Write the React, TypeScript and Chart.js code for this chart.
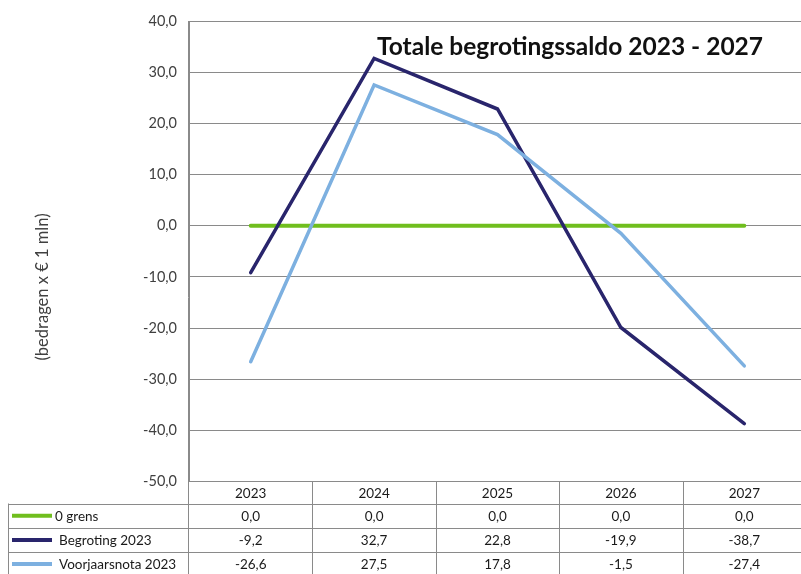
import React, { useEffect, useRef } from "react";
import { Chart, registerables } from "chart.js";

Chart.register(...registerables);

const categories = ["2023", "2024", "2025", "2026", "2027"];
const seriesNames = ["0 grens", "Begroting 2023", "Voorjaarsnota 2023"];
const grens = [0, 0, 0, 0, 0];
const begroting = [-9.2, 32.7, 22.8, -19.9, -38.7];
const voorjaarsnota = [-26.6, 27.5, 17.8, -1.5, -27.4];
const seriesColors = ["#70BE1E", "#29256C", "#7DB0E0"];
const title = "Totale begrotingssaldo 2023 - 2027";
const yTitle = "(bedragen x € 1 mln)";

const FONT = "Lato, 'Open Sans', sans-serif";
const fmt = (v: number) => v.toFixed(1).replace(".", ",");

const W = 806;
const H = 574;
const GRID = "#8a8a8a";

const tablePlugin = {
  id: "tablePlugin",
  afterDraw(chart: any) {
    const ctx = chart.ctx as CanvasRenderingContext2D;
    const area = chart.chartArea;
    const x = chart.scales.x;
    const left = area.left;
    const right = W;
    const top = area.bottom;
    const rowH = [22, 24.5, 24, 24];
    const rowsY: number[] = [top];
    rowH.forEach((h, i) => rowsY.push(rowsY[i] + h));
    const tableLeft = 8;

    ctx.save();
    ctx.strokeStyle = GRID;
    ctx.lineWidth = 1;
    const hl = (y: number, x0: number, x1: number) => {
      const yy = Math.round(y) + 0.5;
      ctx.beginPath();
      ctx.moveTo(x0, yy);
      ctx.lineTo(x1, yy);
      ctx.stroke();
    };
    const vl = (xx: number, y0: number, y1: number) => {
      const px = Math.round(xx) + 0.5;
      ctx.beginPath();
      ctx.moveTo(px, y0);
      ctx.lineTo(px, y1);
      ctx.stroke();
    };
    for (let i = 1; i < rowsY.length; i++) hl(rowsY[i], tableLeft, right);
    vl(tableLeft, rowsY[1], H);
    vl(left - 1, area.top, H);
    const step = (x.getPixelForValue(1) - x.getPixelForValue(0));
    for (let i = 0; i < categories.length; i++) {
      const cx = x.getPixelForValue(i);
      vl(cx + step / 2, top, H);
    }

    ctx.fillStyle = "#1a1a1a";
    ctx.font = `13.5px ${FONT}`;
    ctx.textAlign = "center";
    ctx.textBaseline = "middle";
    categories.forEach((c, i) => {
      ctx.fillText(c, x.getPixelForValue(i), (rowsY[0] + rowsY[1]) / 2 + 1);
    });
    const all = [grens, begroting, voorjaarsnota];
    all.forEach((vals, r) => {
      const cy = (rowsY[r + 1] + rowsY[r + 2]) / 2 + 1;
      vals.forEach((v, i) => {
        ctx.textAlign = "center";
        ctx.fillText(fmt(v), x.getPixelForValue(i), cy);
      });
      ctx.strokeStyle = seriesColors[r];
      ctx.lineWidth = 4;
      ctx.beginPath();
      ctx.moveTo(12, cy - 1);
      ctx.lineTo(52, cy - 1);
      ctx.stroke();
      ctx.textAlign = "left";
      ctx.fillText(seriesNames[r], r === 0 ? 55 : 59, cy);
    });

    // title
    ctx.fillStyle = "#111111";
    ctx.font = `bold 24.5px ${FONT}`;
    ctx.textAlign = "left";
    ctx.textBaseline = "alphabetic";
    ctx.fillText(title, 377, 55);

    // y title
    ctx.save();
    ctx.translate(43, 287);
    ctx.rotate(-Math.PI / 2);
    ctx.fillStyle = "#404040";
    ctx.font = `16.5px ${FONT}`;
    ctx.textAlign = "center";
    ctx.textBaseline = "middle";
    ctx.fillText(yTitle, 0, 0);
    ctx.restore();

    ctx.restore();
  },
};

export default function App() {
  const ref = useRef<HTMLCanvasElement | null>(null);
  useEffect(() => {
    if (!ref.current) return;
    const chart = new Chart(ref.current, {
      type: "line",
      data: {
        labels: categories,
        datasets: [
          { label: seriesNames[0], data: grens, borderColor: seriesColors[0], borderWidth: 4, order: 3 },
          { label: seriesNames[1], data: begroting, borderColor: seriesColors[1], borderWidth: 3.5, order: 2 },
          { label: seriesNames[2], data: voorjaarsnota, borderColor: seriesColors[2], borderWidth: 3.5, order: 1 },
        ].map((d) => ({
          ...d,
          pointRadius: 0,
          pointHoverRadius: 0,
          tension: 0,
          fill: false,
          borderCapStyle: "round" as const,
        })),
      },
      options: {
        responsive: false,
        animation: false,
        devicePixelRatio: 1,
        layout: { padding: { top: 21, left: 0, right: 0, bottom: 0 } },
        plugins: { legend: { display: false }, tooltip: { enabled: false }, title: { display: false } },
        scales: {
          x: {
            type: "category",
            offset: true,
            grid: { display: false, drawTicks: false },
            border: { display: false },
            ticks: { display: false },
            afterFit: (s: any) => {
              s.height = 92.5;
            },
          },
          y: {
            min: -50,
            max: 40,
            ticks: {
              stepSize: 10,
              padding: 12,
              color: "#404040",
              font: { family: FONT, size: 14.5 },
              callback: (v: any) => fmt(Number(v)),
            },
            grid: { color: GRID, lineWidth: 1, drawTicks: false },
            border: { display: true, color: GRID, width: 1 },
            afterFit: (s: any) => {
              s.width = 189;
            },
          },
        },
      },
      plugins: [tablePlugin],
    });
    return () => chart.destroy();
  }, []);
  return (
    <div style={{ position: "fixed", left: 0, top: 0, width: 801, height: 574, overflow: "hidden", background: "#fff" }}>
      <canvas ref={ref} width={W} height={H} style={{ display: "block", width: W, height: H }} />
    </div>
  );
}
